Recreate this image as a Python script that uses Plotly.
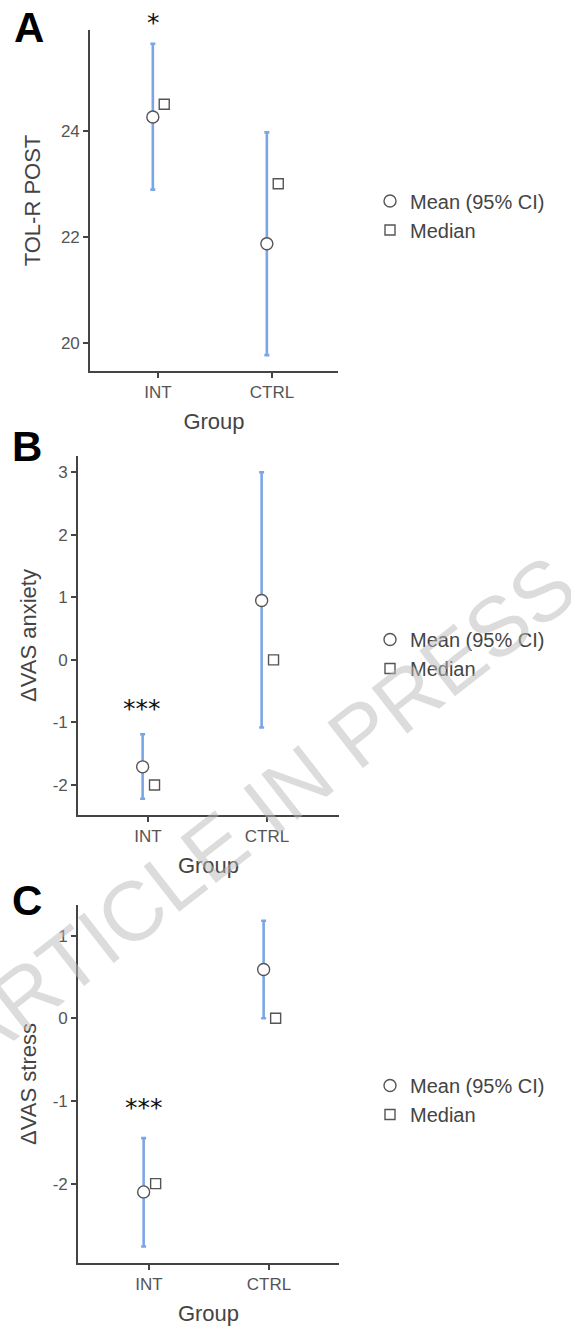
import plotly.graph_objects as go

# ---------------- data ----------------
groups = ["INT", "CTRL"]

tol_mean = [24.26, 21.87]
tol_lo = [22.89, 19.77]
tol_hi = [25.64, 23.97]
tol_median = [24.5, 23.0]

anx_mean = [-1.71, 0.95]
anx_lo = [-2.22, -1.08]
anx_hi = [-1.19, 3.0]
anx_median = [-2.0, 0.0]

str_mean = [-2.10, 0.59]
str_lo = [-2.76, 0.0]
str_hi = [-1.45, 1.18]
str_median = [-2.0, 0.0]

sig_labels = ["*", "***", "***"]
y_titles = ["TOL-R POST", "ΔVAS anxiety", "ΔVAS stress"]
panel_letters = ["A", "B", "C"]
y_ticks = [[20, 22, 24], [-2, -1, 0, 1, 2, 3], [-2, -1, 0, 1]]
y_ticktext = [[str(v) for v in t] for t in y_ticks]   # plain hyphen minus

# ---------------- style ----------------
W, H = 571, 1332
FONT = "Liberation Sans, Arial, sans-serif"
BLUE = "#7ba6e6"
MK_LINE = "#555555"
AX = "#444444"
TICKTXT = "#555555"
DODGE_MEAN = -0.045
DODGE_MED = 0.055

# panel geometry in pixels: (x0, x1, y_top, y_bottom)
geo = [(90, 338, 30, 371), (78, 339, 456, 815), (78, 339, 905, 1263)]
x_ranges = [[-0.596, 1.579], [-0.588, 1.605], [-0.592, 1.583]]
y_ranges = [[19.47, 25.9], [-2.48, 3.26], [-2.96, 1.37]]
y_standoff = [14, 10, 10]
legend_y_px = [215.5, 654, 1100]
letter_pos = [(29, 28), (27, 446), (27, 900)]
# star anchor (x in category units, y in data units) and extra pixel shift
sig_pos = [(-0.035, 25.85, 10), (-0.05, -0.77, 0), (-0.046, -1.076, 0)]

datasets = [
    (tol_mean, tol_lo, tol_hi, tol_median),
    (anx_mean, anx_lo, anx_hi, anx_median),
    (str_mean, str_lo, str_hi, str_median),
]

fig = go.Figure()
xpos = list(range(len(groups)))

for i, (mean, lo, hi, med) in enumerate(datasets):
    sfx = "" if i == 0 else str(i + 1)
    xa, ya = "x" + sfx, "y" + sfx
    leg = "legend" + sfx
    fig.add_trace(go.Scatter(
        x=[p + DODGE_MEAN for p in xpos], y=mean, mode="markers",
        name="Mean (95% CI)", legend=leg, xaxis=xa, yaxis=ya,
        marker=dict(symbol="circle", size=12, color="white",
                    line=dict(color=MK_LINE, width=1.4)),
        error_y=dict(type="data", symmetric=False,
                     array=[h - m for h, m in zip(hi, mean)],
                     arrayminus=[m - l for m, l in zip(mean, lo)],
                     color=BLUE, thickness=2.6, width=2.5),
        cliponaxis=False,
    ))
    fig.add_trace(go.Scatter(
        x=[p + DODGE_MED for p in xpos], y=med, mode="markers",
        name="Median", legend=leg, xaxis=xa, yaxis=ya,
        marker=dict(symbol="square", size=10, color="white",
                    line=dict(color=MK_LINE, width=1.4)),
        cliponaxis=False,
    ))

    x0, x1, yt, yb = geo[i]
    common = dict(showline=True, linecolor=AX, linewidth=1.6, ticks="outside",
                  ticklen=5, tickwidth=1.6, tickcolor=AX, showgrid=False,
                  zeroline=False, tickfont=dict(family=FONT, size=17, color=TICKTXT))
    fig.update_layout(**{
        "xaxis" + sfx: dict(domain=[x0 / W, x1 / W], range=x_ranges[i],
                            tickvals=xpos, ticktext=groups, anchor=ya,
                            title=dict(text="Group", standoff=12,
                                       font=dict(family=FONT, size=22, color=AX)),
                            **common),
        "yaxis" + sfx: dict(domain=[1 - yb / H, 1 - yt / H], range=y_ranges[i],
                            tickvals=y_ticks[i], ticktext=y_ticktext[i], anchor=xa,
                            title=dict(text=y_titles[i], standoff=y_standoff[i],
                                       font=dict(family=FONT, size=22, color=AX)),
                            **common),
        leg: dict(x=370 / W, xanchor="left", y=1 - legend_y_px[i] / H,
                  yanchor="middle", bgcolor="rgba(0,0,0,0)", tracegroupgap=0,
                  font=dict(family=FONT, size=20, color=AX)),
    })

    # significance stars
    sx, sy, shift = sig_pos[i]
    fig.add_annotation(x=sx, y=sy, xref=xa, yref=ya, text=sig_labels[i],
                       showarrow=False, xanchor="center", yanchor="middle",
                       yshift=shift,
                       font=dict(family="DejaVu Sans", size=25, color="#111111"))
    # panel letters
    lx, ly = letter_pos[i]
    fig.add_annotation(x=lx / W, y=1 - ly / H, xref="paper", yref="paper",
                       text="<b>" + panel_letters[i] + "</b>", showarrow=False,
                       xanchor="center", yanchor="middle",
                       font=dict(family=FONT, size=42, color="black"))

# watermark
fig.add_annotation(x=261 / W, y=1 - 811 / H, xref="paper", yref="paper",
                   text="ARTICLE IN PRESS", showarrow=False, textangle=-38,
                   xanchor="center", yanchor="middle",
                   font=dict(family=FONT, size=84, color="rgba(185,185,185,0.5)"))

fig.update_layout(width=W, height=H, margin=dict(l=0, r=0, t=0, b=0),
                  paper_bgcolor="white", plot_bgcolor="white", showlegend=True)

fig.write_html("out.html", config={"displayModeBar": False},
               post_script="document.body.style.margin='0px';document.body.style.padding='0px';")
